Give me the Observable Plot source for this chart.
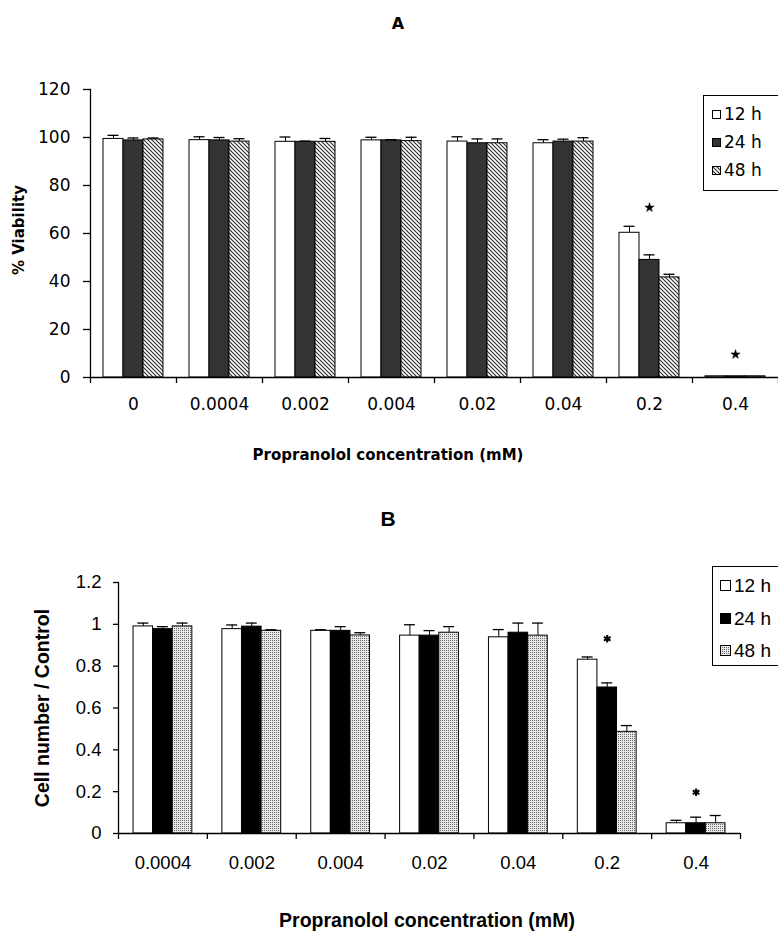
<!DOCTYPE html>
<html><head><meta charset="utf-8">
<script src="https://cdn.jsdelivr.net/npm/d3@7"></script>
<script src="https://cdn.jsdelivr.net/npm/@observablehq/plot@0.6"></script>
<style>
html,body{margin:0;padding:0;background:#fff;}
#root{position:relative;width:778px;height:932px;overflow:hidden;background:#fff;}
.panel{position:absolute;left:0;width:778px;}
.t{position:absolute;white-space:nowrap;line-height:1;color:#000;}
.leg{position:absolute;border:1px solid #000;background:#fff;box-sizing:border-box;}
.li{position:absolute;white-space:nowrap;line-height:1;color:#000;display:flex;align-items:center;}
.li svg{display:block;}
</style></head>
<body><div id="root">
<svg width="0" height="0" style="position:absolute;left:0;top:0">
  <defs>
    <pattern id="hatchA" patternUnits="userSpaceOnUse" width="4" height="4">
      <rect width="4" height="4" fill="#fff"/>
      <path d="M-1,-1 L5,5 M-1,3 L1,5 M3,-1 L5,1" stroke="#2a2a2a" stroke-width="1.1"/>
    </pattern>
    <pattern id="dotsB" patternUnits="userSpaceOnUse" width="2" height="2">
      <rect width="2" height="2" fill="#e8e8e8"/>
      <rect width="1" height="1" fill="#6a6a6a"/>
    </pattern>
  </defs>
</svg>
</div>
<script>
// ---------- data ----------
const series = ["12 h", "24 h", "48 h"];

// Panel A: % viability
const concA = ["0", "0.0004", "0.002", "0.004", "0.02", "0.04", "0.2", "0.4"];
const viab12 = [99.4, 98.9, 98.2, 98.8, 98.3, 97.6, 60.3, 0.5];
const viab24 = [98.8, 98.8, 98.2, 98.8, 97.6, 98.3, 49.0, 0.5];
const viab48 = [99.2, 98.3, 98.2, 98.5, 97.6, 98.3, 41.7, 0.5];
const viabErr12 = [1.5, 1.4, 2.0, 1.3, 2.0, 1.5, 2.7, 0];
const viabErr24 = [1.0, 1.2, 0.3, 0.3, 1.8, 1.0, 2.1, 0];
const viabErr48 = [0.6, 1.2, 1.4, 1.6, 1.8, 1.6, 1.3, 0];
const yTicksA = [0, 20, 40, 60, 80, 100, 120];
const starConcA = ["0.2", "0.4"];
const starYA = [70.8, 9.6];

// Panel B: cell number / control
const concB = ["0.0004", "0.002", "0.004", "0.02", "0.04", "0.2", "0.4"];
const cell12 = [0.990, 0.977, 0.969, 0.946, 0.938, 0.831, 0.049];
const cell24 = [0.977, 0.989, 0.969, 0.946, 0.960, 0.698, 0.049];
const cell48 = [0.990, 0.969, 0.947, 0.960, 0.946, 0.486, 0.049];
const cellErr12 = [0.016, 0.020, 0.005, 0.052, 0.037, 0.013, 0.014];
const cellErr24 = [0.012, 0.017, 0.020, 0.024, 0.046, 0.022, 0.029];
const cellErr48 = [0.016, 0.005, 0.013, 0.029, 0.060, 0.030, 0.037];
const yTicksB = [0, 0.2, 0.4, 0.6, 0.8, 1, 1.2];
const starConcB = ["0.2", "0.4"];
const starYB = [0.931, 0.197];

// ---------- helpers ----------
function rows(conc, vals, errs) {
  return conc.flatMap((c, j) => series.map((s, i) => ({conc: c, series: s, idx: i, value: vals[i][j], err: errs[i][j]})));
}
const root = document.getElementById("root");

function groupedBars({conc, data, stars, yDomain, yTicks, yFmt, W, H, ml, mr, mt, mb, bw, fills, font, fontSize,
                      yTickSize, yTickPad, xTickPad, starMark}) {
  const step = (W - ml - mr) / conc.length;
  const g0 = (step - 3 * bw) / 2;
  const capW = 11;
  const marks = [];
  series.forEach((s, i) => {
    const d = data.filter(r => r.series === s);
    const left = g0 + i * bw;
    const center = left + bw / 2;
    marks.push(Plot.barY(d, {x: "conc", y: "value", fill: fills[i], stroke: "black", strokeWidth: 1,
      insetLeft: left, insetRight: step - left - bw}));
    const de = d.filter(r => r.err > 0);
    marks.push(Plot.ruleX(de, {x: "conc", y1: "value", y2: r => r.value + r.err, dx: center - step / 2, stroke: "black", strokeWidth: 1}));
    marks.push(Plot.tickY(de, {x: "conc", y: r => r.value + r.err, insetLeft: center - capW / 2, insetRight: step - center - capW / 2, stroke: "black", strokeWidth: 1.3}));
  });
  marks.push(Plot.ruleY([0], {stroke: "black", strokeWidth: 1.3}));
  marks.push(Plot.frame({anchor: "left", stroke: "black", strokeWidth: 1.3}));
  marks.push(Plot.axisY({ticks: yTicks, tickFormat: yFmt, tickSize: yTickSize, tickPadding: yTickPad, fontSize, label: null, strokeWidth: 1.3}));
  marks.push(Plot.axisX({tickSize: 0, tickPadding: xTickPad, fontSize, label: null}));
  marks.push(Plot.axisX({tickSize: 6, tickFormat: () => "", dx: -step / 2, label: null, strokeWidth: 1.3}));
  marks.push(Plot.axisX({ticks: [conc[conc.length - 1]], tickSize: 6, tickFormat: () => "", dx: step / 2, label: null, strokeWidth: 1.3}));
  marks.push(starMark(stars));
  return Plot.plot({
    width: W, height: H, marginLeft: ml, marginRight: mr, marginTop: mt, marginBottom: mb,
    x: {type: "band", domain: conc, padding: 0, round: false},
    y: {domain: yDomain},
    style: {fontFamily: font, fontSize: fontSize + "px", color: "black", background: "transparent", overflow: "visible"},
    marks
  });
}

function addText(txt, {x, baseline, font, size, bold = true, rotate = false}) {
  const el = document.createElement("div");
  el.className = "t";
  el.textContent = txt;
  el.style.fontFamily = font;
  el.style.fontSize = size + "px";
  el.style.fontWeight = bold ? "bold" : "normal";
  if (!rotate) {
    el.style.left = x + "px";
    el.style.top = (baseline - 0.846 * size) + "px";
    el.style.transform = "translateX(-50%)";
  } else {
    el.style.left = x + "px";
    el.style.top = baseline + "px";
    el.style.transform = "translate(-50%,-50%) rotate(-90deg)";
  }
  root.appendChild(el);
}

function addLegend({left, top, height, font, size, fills, sw, textGap, ys, swX}) {
  const box = document.createElement("div");
  box.className = "leg";
  box.style.left = left + "px"; box.style.top = top + "px";
  box.style.width = "120px"; box.style.height = height + "px";
  root.appendChild(box);
  series.forEach((s, i) => {
    const it = document.createElement("div");
    it.className = "li";
    it.style.left = swX + "px";
    it.style.top = (ys[i] - size / 2) + "px";
    it.style.height = size + "px";
    it.style.fontFamily = font; it.style.fontSize = size + "px";
    it.innerHTML = `<svg width="${sw}" height="${sw}"><rect x="0.5" y="0.5" width="${sw - 1}" height="${sw - 1}" fill="${fills[i]}" stroke="black" stroke-width="1"/></svg><span style="margin-left:${textGap}px">${s}</span>`;
    root.appendChild(it);
  });
}

// ---------- Panel A ----------
const fillsA = ["white", "#333333", "url(#hatchA)"];
const dataA = rows(concA, [viab12, viab24, viab48], [viabErr12, viabErr24, viabErr48]);
const starsA = starConcA.map((c, i) => ({conc: c, y: starYA[i]}));
const plotA = groupedBars({
  conc: concA, data: dataA, stars: starsA, yDomain: [0, 120], yTicks: yTicksA, yFmt: d => String(d),
  W: 778, H: 490, ml: 90, mr: 0, mt: 89, mb: 113, bw: 20, fills: fillsA,
  font: "DejaVu Sans", fontSize: 17, yTickSize: 7, yTickPad: 13, xTickPad: 20,
  starMark: st => Plot.dot(st, {x: "conc", y: "y", symbol: "star", fill: "black", stroke: "black", strokeWidth: 0.5, r: 2.9})
});
const pA = document.createElement("div");
pA.className = "panel"; pA.style.top = "0px";
pA.appendChild(plotA);
root.appendChild(pA);

addText("A", {x: 398, baseline: 30, font: "DejaVu Sans", size: 16});
addText("Propranolol concentration (mM)", {x: 388, baseline: 461, font: "DejaVu Sans", size: 15});
addText("% Viability", {x: 19, baseline: 230, font: "DejaVu Sans", size: 15, rotate: true});
addLegend({left: 703, top: 95, height: 96, font: "DejaVu Sans", size: 17, fills: fillsA, sw: 9, textGap: 3, ys: [114, 142, 170], swX: 712});

// ---------- Panel B ----------
const fillsB = ["white", "black", "url(#dotsB)"];
const dataB = rows(concB, [cell12, cell24, cell48], [cellErr12, cellErr24, cellErr48]);
const starsB = starConcB.map((c, i) => ({conc: c, y: starYB[i]}));
const plotB = groupedBars({
  conc: concB, data: dataB, stars: starsB, yDomain: [0, 1.2], yTicks: yTicksB, yFmt: d => String(d),
  W: 778, H: 442, ml: 118, mr: 38, mt: 92, mb: 99, bw: 19.6, fills: fillsB,
  font: "Liberation Sans", fontSize: 18.5, yTickSize: 5, yTickPad: 12, xTickPad: 22,
  starMark: st => Plot.dot(st, {x: "conc", y: "y", symbol: "asterisk", stroke: "black", strokeWidth: 2, r: 3.6})
});
const pB = document.createElement("div");
pB.className = "panel"; pB.style.top = "490px";
pB.appendChild(plotB);
root.appendChild(pB);

addText("B", {x: 388, baseline: 526, font: "Liberation Sans", size: 21});
addText("Propranolol concentration (mM)", {x: 427, baseline: 927, font: "Liberation Sans", size: 19.5});
addText("Cell number / Control", {x: 43, baseline: 708, font: "Liberation Sans", size: 19.5, rotate: true});
addLegend({left: 712, top: 566, height: 100, font: "Liberation Sans", size: 19, fills: fillsB, sw: 11, textGap: 3, ys: [585, 618, 650], swX: 720});
</script>
</body></html>
